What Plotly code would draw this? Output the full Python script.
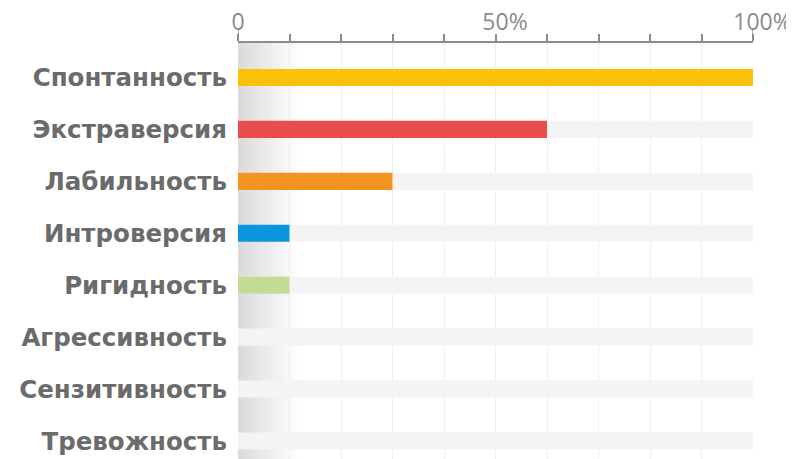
import plotly.graph_objects as go

categories = ["Спонтанность", "Экстраверсия", "Лабильность", "Интроверсия",
              "Ригидность", "Агрессивность", "Сензитивность", "Тревожность"]
values = [100, 60, 30, 10, 10, 0, 0, 0]
colors = ["#FCBF0C", "#E94C4C", "#F39422", "#0896DE", "#C4DB95",
          "#CCCCCC", "#CCCCCC", "#CCCCCC"]
full_scale = [100] * len(categories)
tick_vals = list(range(0, 101, 10))
tick_labels = {0: "0", 50: "50%", 100: "100%"}

hidden = "<span style='color:rgba(0,0,0,0)'>%</span>"
tick_text = []
for v in tick_vals:
    t = tick_labels.get(v, "")
    if t.endswith("%"):
        t = hidden + t
    tick_text.append(t)

# the page body adds an 8px margin, so the figure is drawn 8px smaller
W, H = 786, 451
mt, mb, ml, mr = 35, 0, 230, 41
plot_h = H - mt - mb

fig = go.Figure()
fig.add_trace(go.Bar(y=categories, x=full_scale, orientation="h",
                     marker=dict(color="#F4F4F4", line=dict(width=0)),
                     width=0.33, hoverinfo="skip", showlegend=False))
fig.add_trace(go.Bar(y=categories, x=values, orientation="h",
                     marker=dict(color=colors, line=dict(width=0)),
                     width=0.33, showlegend=False))

shapes = []
# soft shadow near the left edge
for k in range(1, 13):
    shapes.append(dict(type="rect", xref="x", yref="paper", x0=0, x1=k * 0.95,
                       y0=0, y1=1, layer="below", line=dict(width=0),
                       fillcolor="rgba(0,0,0,0.013)"))
# long ticks at the ends of the axis
for xv in (0, 100):
    shapes.append(dict(type="line", xref="x", yref="paper", x0=xv, x1=xv,
                       y0=1, y1=1 + 13 / plot_h, line=dict(color="#8C8C8C", width=1.5)))

fig.update_layout(
    width=W, height=H,
    margin=dict(l=ml, r=mr, t=mt, b=mb, pad=0, autoexpand=False),
    paper_bgcolor="white", plot_bgcolor="white",
    barmode="overlay",
    shapes=shapes,
    xaxis=dict(side="top", range=[0, 100], tickvals=tick_vals, ticktext=tick_text,
               ticks="outside", ticklen=7, tickwidth=1.5, tickcolor="#8C8C8C",
               showline=True, linecolor="#8C8C8C", linewidth=1.5,
               showgrid=True, gridcolor="#F0F0F0", gridwidth=1,
               zeroline=False, fixedrange=True, automargin=False,
               tickfont=dict(family="Open Sans", size=23, color="#8C8C8C"),
               ticklabelstandoff=-5),
    yaxis=dict(categoryorder="array", categoryarray=categories,
               range=[7.347, -0.664], showgrid=False, zeroline=False,
               showline=False, ticks="", ticklabelstandoff=10, automargin=False,
               tickfont=dict(family="DejaVu Sans", size=24.5, color="#6B6B6B",
                             weight="bold")),
)

fig.write_html("out.html")
